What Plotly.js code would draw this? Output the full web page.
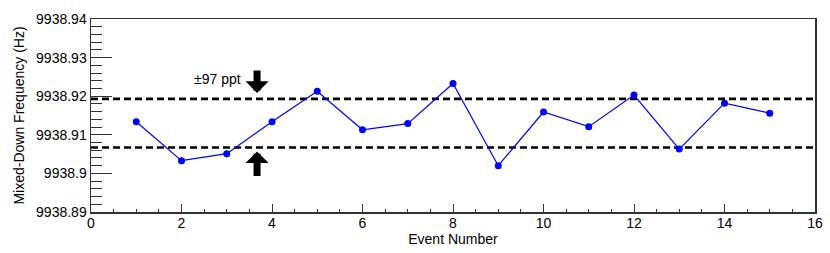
<!DOCTYPE html>
<html>
<head>
<meta charset="utf-8">
<script src="https://cdn.plot.ly/plotly-3.0.1.min.js"></script>
<style>html,body{margin:0;padding:0;background:#fff;}#chart{width:830px;height:253px;}</style>
</head>
<body>
<div id="chart"></div>
<script>
const eventNumbers = [1,2,3,4,5,6,7,8,9,10,11,12,13,14,15];
const frequencies = [9938.9134, 9938.9033, 9938.9051, 9938.9134, 9938.9213, 9938.9113, 9938.9129,
                     9938.9233, 9938.9020, 9938.9159, 9938.9121, 9938.9203, 9938.9063, 9938.9182, 9938.9156];
const bandLimits = [9938.9067, 9938.9193];
const bandX = [0, 16];
const yTickVals = [9938.89, 9938.90, 9938.91, 9938.92, 9938.93, 9938.94];
const yTickText = ['9938.89', '9938.9', '9938.91', '9938.92', '9938.93', '9938.94'];
const xTickVals = [0,2,4,6,8,10,12,14,16];
const xTickText = ['0','2','4','6','8','10','12','14','16'];
const bandLabel = '±97 ppt';
const arrowX = 3.67;
const labelPos = {x: 2.8, y: 9938.9245};

const font = {family: 'Liberation Sans, Arial, Helvetica, sans-serif', size: 14, color: '#000'};
const frameColor = '#333';

const traces = [];
bandLimits.forEach(v => {
  traces.push({
    x: bandX, y: [v, v], mode: 'lines', hoverinfo: 'skip', showlegend: false,
    line: {color: '#000', width: 2.6, dash: '7px,4px'}
  });
});
traces.push({
  x: eventNumbers, y: frequencies, mode: 'lines+markers', showlegend: false,
  line: {color: '#0000ff', width: 1.2},
  marker: {color: '#0000ff', size: 7}
});

const layout = {
  width: 830, height: 253,
  margin: {l: 91, r: 15, t: 19, b: 41},
  paper_bgcolor: '#fff', plot_bgcolor: '#fff',
  font: font,
  showlegend: false,
  xaxis: {
    range: bandX, showgrid: false, zeroline: false,
    showline: true, mirror: true, linecolor: frameColor, linewidth: 1.5,
    tickmode: 'array', tickvals: xTickVals, ticktext: xTickText,
    ticks: 'inside', ticklen: 8, tickwidth: 1, tickcolor: frameColor,
    ticklabelstandoff: -2,
    minor: {tickmode: 'linear', tick0: 0, dtick: 0.5, ticks: 'inside', ticklen: 3.5, tickcolor: frameColor, tickwidth: 1},
    tickfont: font,
    title: {text: 'Event Number', font: font, standoff: 4}
  },
  yaxis: {
    range: [yTickVals[0], yTickVals[yTickVals.length-1]], showgrid: false, zeroline: false,
    showline: true, mirror: true, linecolor: frameColor, linewidth: 1.5,
    tickmode: 'array', tickvals: yTickVals, ticktext: yTickText,
    ticks: 'inside', ticklen: 21, tickwidth: 1, tickcolor: frameColor,
    minor: {tickmode: 'linear', tick0: yTickVals[0], dtick: 0.002, ticks: 'inside', ticklen: 11, tickcolor: frameColor, tickwidth: 1},
    tickfont: font,
    title: {text: 'Mixed-Down Frequency (Hz)', font: font, standoff: 8}
  },
  annotations: [
    {x: labelPos.x, y: labelPos.y, xref: 'x', yref: 'y', text: bandLabel, showarrow: false, font: font},
    {x: arrowX, y: bandLimits[1], xref: 'x', yref: 'y', text: '', showarrow: true,
     ax: 0, ay: -30, arrowhead: 1, arrowsize: 0.55, arrowwidth: 7, arrowcolor: '#000', standoff: 6},
    {x: arrowX, y: bandLimits[0], xref: 'x', yref: 'y', text: '', showarrow: true,
     ax: 0, ay: 30, arrowhead: 1, arrowsize: 0.55, arrowwidth: 7, arrowcolor: '#000', standoff: 4}
  ]
};

Plotly.newPlot('chart', traces, layout, {displayModeBar: false, staticPlot: true});
</script>
</body>
</html>
